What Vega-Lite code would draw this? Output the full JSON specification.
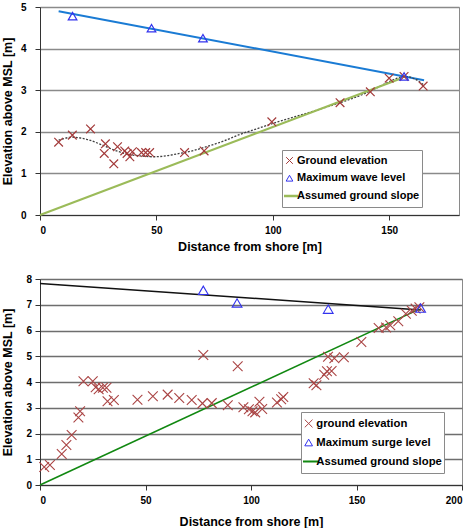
{
  "$schema": "https://vega.github.io/schema/vega-lite/v6.json",
  "background": "white",
  "padding": {"left": 0, "top": 1, "right": 5, "bottom": 0},
  "spacing": 20,
  "config": {
    "font": "Liberation Sans",
    "view": {"stroke": "#8a8a8a", "strokeWidth": 1},
    "axis": {
      "labelFont": "Liberation Sans", "labelFontWeight": "bold", "labelFontSize": 10, "labelColor": "black",
      "titleFont": "Liberation Sans", "titleFontWeight": "bold", "titleFontSize": 12.5, "titleColor": "black",
      "tickColor": "#333333", "domainColor": "#333333", "tickSize": 5
    },
    "axisX": {"grid": false, "labelPadding": 5},
    "axisY": {"gridColor": "#8a8a8a", "gridWidth": 1.5},
    "legend": {
      "orient": "none", "title": null,
      "labelFont": "Liberation Sans", "labelFontWeight": "bold", "labelFontSize": 11, "labelColor": "black",
      "strokeColor": "#8a8a8a", "fillColor": "white"
    }
  },
  "resolve": {"scale": {"color": "independent", "shape": "independent"}, "legend": {"color": "independent", "shape": "independent"}},
  "vconcat": [
    {
      "width": 419,
      "height": 208,
      "encoding": {
        "x": {"field": "x", "type": "quantitative", "scale": {"domain": [0, 180], "nice": false},
              "axis": {"values": [0, 50, 100, 150], "title": "Distance from shore [m]", "titlePadding": 5}},
        "y": {"field": "y", "type": "quantitative", "scale": {"domain": [0, 5], "nice": false},
              "axis": {"values": [0, 1, 2, 3, 4, 5], "title": "Elevation above  MSL [m]", "labelPadding": 9, "titlePadding": 6}}
      },
      "layer": [
        {
          "data": {"values": [{"x": 8, "y": 4.9}, {"x": 165, "y": 3.24}]},
          "mark": {"type": "line", "color": "#1a7bd4", "strokeWidth": 2}
        },
        {
          "data": {"values": [
            {"x": 8, "y": 1.80}, {"x": 14, "y": 1.87}, {"x": 20, "y": 1.82}, {"x": 26, "y": 1.70},
            {"x": 31, "y": 1.58}, {"x": 37, "y": 1.47}, {"x": 43, "y": 1.42}, {"x": 49, "y": 1.40},
            {"x": 54, "y": 1.42}, {"x": 59, "y": 1.47}, {"x": 66, "y": 1.55}, {"x": 72, "y": 1.65},
            {"x": 79, "y": 1.78}, {"x": 86, "y": 1.94}, {"x": 93, "y": 2.07}, {"x": 100, "y": 2.20},
            {"x": 110, "y": 2.37}, {"x": 120, "y": 2.54}, {"x": 130, "y": 2.72}, {"x": 140, "y": 2.93},
            {"x": 148, "y": 3.15}, {"x": 153, "y": 3.28}, {"x": 157, "y": 3.33}, {"x": 161, "y": 3.27},
            {"x": 165, "y": 3.12}
          ]},
          "mark": {"type": "line", "color": "#404040", "strokeWidth": 1.3, "strokeDash": [2, 1.5], "interpolate": "monotone"}
        },
        {
          "data": {"values": [
            {"x": 0, "y": 0, "series": "Assumed ground slope"},
            {"x": 155, "y": 3.28, "series": "Assumed ground slope"}
          ]},
          "mark": {"type": "line", "strokeWidth": 2.2},
          "encoding": {
            "color": {"field": "series", "type": "nominal",
              "scale": {"domain": ["Ground elevation", "Maximum wave level", "Assumed ground slope"], "range": ["#a33a3a", "#3333ee", "#9bbb59"]},
              "legend": {"legendX": 242, "legendY": 143, "padding": 2, "symbolSize": 289, "clipHeight": 17, "rowPadding": 0.7, "labelOffset": 2,
                "encode": {"symbols": {"update": {"size": {"signal": "datum.value === 'Assumed ground slope' ? 289 : 45"}, "strokeWidth": {"signal": "datum.value === 'Assumed ground slope' ? 2.5 : 1"}}}}}}
          }
        },
        {
          "data": {"values": [
            {"x": 8, "y": 1.75, "series": "Ground elevation"},
            {"x": 13.9, "y": 1.92, "series": "Ground elevation"},
            {"x": 21.7, "y": 2.07, "series": "Ground elevation"},
            {"x": 28.1, "y": 1.71, "series": "Ground elevation"},
            {"x": 27.6, "y": 1.48, "series": "Ground elevation"},
            {"x": 31.7, "y": 1.23, "series": "Ground elevation"},
            {"x": 33.3, "y": 1.64, "series": "Ground elevation"},
            {"x": 36.4, "y": 1.54, "series": "Ground elevation"},
            {"x": 37.4, "y": 1.48, "series": "Ground elevation"},
            {"x": 38.6, "y": 1.40, "series": "Ground elevation"},
            {"x": 39.7, "y": 1.52, "series": "Ground elevation"},
            {"x": 43.6, "y": 1.50, "series": "Ground elevation"},
            {"x": 45.4, "y": 1.50, "series": "Ground elevation"},
            {"x": 47.1, "y": 1.50, "series": "Ground elevation"},
            {"x": 62.1, "y": 1.50, "series": "Ground elevation"},
            {"x": 70.5, "y": 1.54, "series": "Ground elevation"},
            {"x": 99.6, "y": 2.24, "series": "Ground elevation"},
            {"x": 128.9, "y": 2.70, "series": "Ground elevation"},
            {"x": 141.9, "y": 2.96, "series": "Ground elevation"},
            {"x": 150, "y": 3.29, "series": "Ground elevation"},
            {"x": 156.4, "y": 3.33, "series": "Ground elevation"},
            {"x": 164.6, "y": 3.10, "series": "Ground elevation"},
            {"x": 14, "y": 4.78, "series": "Maximum wave level"},
            {"x": 47.9, "y": 4.49, "series": "Maximum wave level"},
            {"x": 70, "y": 4.25, "series": "Maximum wave level"},
            {"x": 156.4, "y": 3.33, "series": "Maximum wave level"}
          ]},
          "mark": {"type": "point", "filled": false, "strokeWidth": 1.2, "size": 75, "opacity": 1},
          "encoding": {
            "color": {"field": "series", "type": "nominal",
              "scale": {"domain": ["Ground elevation", "Maximum wave level", "Assumed ground slope"], "range": ["#a33a3a", "#3333ee", "#9bbb59"]}},
            "shape": {"field": "series", "type": "nominal",
              "scale": {"domain": ["Ground elevation", "Maximum wave level", "Assumed ground slope"], "range": ["M-1,-1L1,1M-1,1L1,-1", "triangle-up", "stroke"]},
              "legend": {"legendX": 242, "legendY": 143, "padding": 2, "symbolSize": 289, "clipHeight": 17, "rowPadding": 0.7, "labelOffset": 2,
                "encode": {"symbols": {"update": {"size": {"signal": "datum.value === 'Assumed ground slope' ? 289 : 45"}, "strokeWidth": {"signal": "datum.value === 'Assumed ground slope' ? 2.5 : 1"}}}}}}
          }
        }
      ]
    },
    {
      "width": 422,
      "height": 206,
      "encoding": {
        "x": {"field": "x", "type": "quantitative", "scale": {"domain": [0, 200], "nice": false},
              "axis": {"values": [0, 50, 100, 150, 200], "title": "Distance from shore [m]", "titlePadding": 10}},
        "y": {"field": "y", "type": "quantitative", "scale": {"domain": [0, 8], "nice": false},
              "axis": {"values": [0, 1, 2, 3, 4, 5, 6, 7, 8], "title": "Elevation above MSL [m]", "labelPadding": 3.5, "titlePadding": 11, "gridColor": "#6e6e6e"}}
      },
      "layer": [
        {
          "data": {"values": [{"x": 0, "y": 7.83}, {"x": 180.5, "y": 6.8}]},
          "mark": {"type": "line", "color": "#111111", "strokeWidth": 1.5}
        },
        {
          "data": {"values": [
            {"x": 0, "y": 0, "series": "Assumed ground slope"},
            {"x": 179.5, "y": 6.82, "series": "Assumed ground slope"}
          ]},
          "mark": {"type": "line", "strokeWidth": 1.6},
          "encoding": {
            "color": {"field": "series", "type": "nominal",
              "scale": {"domain": ["ground elevation", "Maximum surge level", "Assumed ground slope"], "range": ["#aa4444", "#3333ee", "#118811"]},
              "legend": {"legendX": 261, "legendY": 133, "padding": 2, "symbolSize": 441, "clipHeight": 19, "rowPadding": 0, "labelOffset": 2, "labelFontSize": 11.3,
                "encode": {"symbols": {"update": {"size": {"signal": "datum.value === 'Assumed ground slope' ? 441 : 60"}, "strokeWidth": {"signal": "datum.value === 'Assumed ground slope' ? 1.8 : 1"}}}}}}
          }
        },
        {
          "data": {"values": [
            {"x": 2, "y": 0.7, "series": "ground elevation"},
            {"x": 4.7, "y": 0.78, "series": "ground elevation"},
            {"x": 10.3, "y": 1.2, "series": "ground elevation"},
            {"x": 12.5, "y": 1.55, "series": "ground elevation"},
            {"x": 15, "y": 1.94, "series": "ground elevation"},
            {"x": 18.2, "y": 2.62, "series": "ground elevation"},
            {"x": 19, "y": 2.86, "series": "ground elevation"},
            {"x": 20.6, "y": 4.03, "series": "ground elevation"},
            {"x": 25, "y": 4.03, "series": "ground elevation"},
            {"x": 26.4, "y": 3.8, "series": "ground elevation"},
            {"x": 27.8, "y": 3.72, "series": "ground elevation"},
            {"x": 29.8, "y": 3.78, "series": "ground elevation"},
            {"x": 31.5, "y": 3.78, "series": "ground elevation"},
            {"x": 32, "y": 3.25, "series": "ground elevation"},
            {"x": 35, "y": 3.3, "series": "ground elevation"},
            {"x": 46.2, "y": 3.31, "series": "ground elevation"},
            {"x": 53.5, "y": 3.45, "series": "ground elevation"},
            {"x": 60.5, "y": 3.51, "series": "ground elevation"},
            {"x": 66, "y": 3.38, "series": "ground elevation"},
            {"x": 71.9, "y": 3.3, "series": "ground elevation"},
            {"x": 77, "y": 3.17, "series": "ground elevation"},
            {"x": 77.4, "y": 5.05, "series": "ground elevation"},
            {"x": 81.4, "y": 3.18, "series": "ground elevation"},
            {"x": 89, "y": 3.1, "series": "ground elevation"},
            {"x": 93.7, "y": 4.61, "series": "ground elevation"},
            {"x": 96.4, "y": 3.02, "series": "ground elevation"},
            {"x": 99, "y": 2.94, "series": "ground elevation"},
            {"x": 100.7, "y": 2.86, "series": "ground elevation"},
            {"x": 102, "y": 2.82, "series": "ground elevation"},
            {"x": 104, "y": 3.23, "series": "ground elevation"},
            {"x": 105.3, "y": 2.95, "series": "ground elevation"},
            {"x": 112.3, "y": 3.2, "series": "ground elevation"},
            {"x": 114.3, "y": 3.33, "series": "ground elevation"},
            {"x": 115.3, "y": 3.42, "series": "ground elevation"},
            {"x": 129.7, "y": 3.95, "series": "ground elevation"},
            {"x": 131, "y": 3.87, "series": "ground elevation"},
            {"x": 134.7, "y": 4.28, "series": "ground elevation"},
            {"x": 136, "y": 4.42, "series": "ground elevation"},
            {"x": 138.2, "y": 4.43, "series": "ground elevation"},
            {"x": 136.5, "y": 4.98, "series": "ground elevation"},
            {"x": 139.5, "y": 4.92, "series": "ground elevation"},
            {"x": 144, "y": 4.96, "series": "ground elevation"},
            {"x": 152.3, "y": 5.55, "series": "ground elevation"},
            {"x": 160.5, "y": 6.1, "series": "ground elevation"},
            {"x": 164, "y": 6.12, "series": "ground elevation"},
            {"x": 166, "y": 6.2, "series": "ground elevation"},
            {"x": 169.8, "y": 6.36, "series": "ground elevation"},
            {"x": 173.4, "y": 6.65, "series": "ground elevation"},
            {"x": 176.2, "y": 6.77, "series": "ground elevation"},
            {"x": 178, "y": 6.85, "series": "ground elevation"},
            {"x": 179.8, "y": 6.9, "series": "ground elevation"},
            {"x": 77.4, "y": 7.56, "series": "Maximum surge level"},
            {"x": 93.4, "y": 7.07, "series": "Maximum surge level"},
            {"x": 136.6, "y": 6.83, "series": "Maximum surge level"},
            {"x": 180.4, "y": 6.87, "series": "Maximum surge level"}
          ]},
          "mark": {"type": "point", "filled": false, "strokeWidth": 1.1, "size": 95, "opacity": 1},
          "encoding": {
            "color": {"field": "series", "type": "nominal",
              "scale": {"domain": ["ground elevation", "Maximum surge level", "Assumed ground slope"], "range": ["#aa4444", "#3333ee", "#118811"]}},
            "shape": {"field": "series", "type": "nominal",
              "scale": {"domain": ["ground elevation", "Maximum surge level", "Assumed ground slope"], "range": ["M-1,-1L1,1M-1,1L1,-1", "triangle-up", "stroke"]},
              "legend": {"legendX": 261, "legendY": 133, "padding": 2, "symbolSize": 441, "clipHeight": 19, "rowPadding": 0, "labelOffset": 2, "labelFontSize": 11.3,
                "encode": {"symbols": {"update": {"size": {"signal": "datum.value === 'Assumed ground slope' ? 441 : 60"}, "strokeWidth": {"signal": "datum.value === 'Assumed ground slope' ? 1.8 : 1"}}}}}}
          }
        }
      ]
    }
  ]
}
